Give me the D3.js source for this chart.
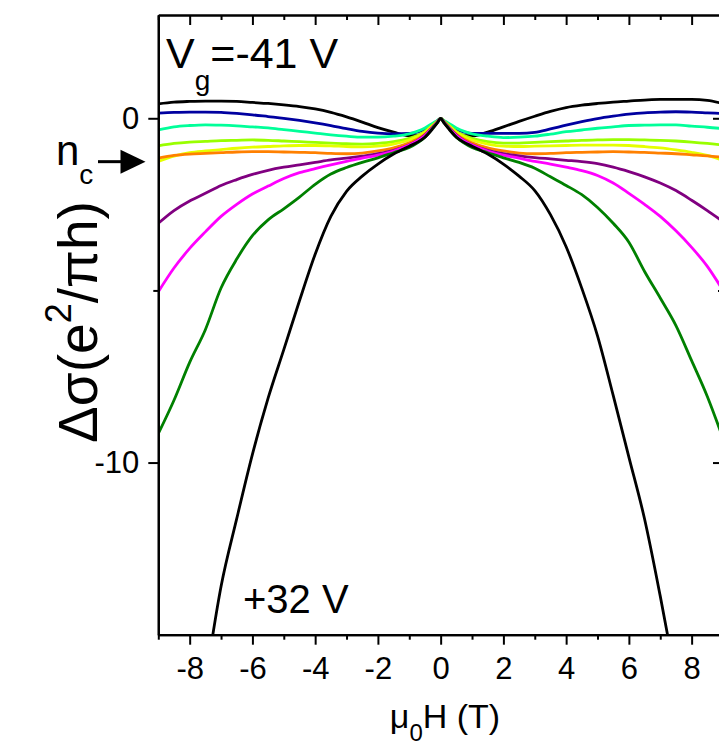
<!DOCTYPE html>
<html>
<head>
<meta charset="utf-8">
<script src="https://cdn.jsdelivr.net/npm/d3@7"></script>
<style>
  html, body { margin: 0; padding: 0; background: #fff; }
  svg { display: block; }
  text { font-family: "Liberation Sans", Arial, sans-serif; fill: #000; }
</style>
</head>
<body>
<svg id="chart" width="719" height="746"></svg>
<script>
// Magnetic field grid (T), shared by every trace
const fieldH = [-9, -8.5, -8, -7.5, -7, -6.5, -6, -5.5, -5, -4.5, -4, -3.5, -3, -2.5, -2, -1.5, -1, -0.75, -0.5, -0.25, -0.1,
  0,
  0.1, 0.25, 0.5, 0.75, 1, 1.5, 2, 2.5, 3, 3.5, 4, 4.5, 5, 5.5, 6, 6.5, 7, 7.5, 8, 8.5, 9];

// Magnetoconductance traces, Δσ in units of e²/πh, from Vg = -41 V (top) to Vg = +32 V (bottom)
const trace01 = [0.42, 0.47, 0.49, 0.50, 0.50, 0.49, 0.46, 0.43, 0.39, 0.34, 0.27, 0.17, 0.04, -0.11, -0.27, -0.40, -0.51, -0.50, -0.42, -0.22, -0.09,
  0,
  -0.09, -0.22, -0.42, -0.50, -0.51, -0.40, -0.25, -0.09, 0.06, 0.20, 0.31, 0.38, 0.43, 0.47, 0.50, 0.53, 0.55, 0.55, 0.55, 0.52, 0.43];
const trace02 = [0.15, 0.17, 0.18, 0.18, 0.17, 0.14, 0.10, 0.05, 0.00, -0.06, -0.13, -0.21, -0.30, -0.38, -0.43, -0.45, -0.44, -0.40, -0.32, -0.17, -0.07,
  0,
  -0.07, -0.17, -0.32, -0.40, -0.44, -0.44, -0.44, -0.44, -0.41, -0.31, -0.20, -0.10, -0.01, 0.06, 0.12, 0.16, 0.18, 0.19, 0.18, 0.16, 0.14];
const trace03 = [-0.34, -0.25, -0.21, -0.19, -0.20, -0.22, -0.25, -0.28, -0.33, -0.38, -0.43, -0.48, -0.52, -0.55, -0.55, -0.52, -0.45, -0.38, -0.28, -0.14, -0.06,
  0,
  -0.06, -0.14, -0.28, -0.38, -0.45, -0.52, -0.56, -0.55, -0.52, -0.46, -0.39, -0.34, -0.29, -0.25, -0.21, -0.20, -0.19, -0.19, -0.23, -0.26, -0.30];
const trace04 = [-0.80, -0.73, -0.69, -0.67, -0.65, -0.64, -0.63, -0.64, -0.66, -0.68, -0.70, -0.72, -0.74, -0.75, -0.73, -0.68, -0.58, -0.50, -0.38, -0.19, -0.08,
  0,
  -0.08, -0.19, -0.38, -0.50, -0.58, -0.68, -0.72, -0.72, -0.70, -0.68, -0.66, -0.64, -0.63, -0.62, -0.62, -0.63, -0.64, -0.66, -0.69, -0.73, -0.78];
const trace05 = [-1.25, -1.10, -1.00, -0.95, -0.91, -0.87, -0.84, -0.82, -0.80, -0.79, -0.79, -0.80, -0.82, -0.83, -0.81, -0.75, -0.63, -0.54, -0.41, -0.21, -0.09,
  0,
  -0.09, -0.21, -0.41, -0.54, -0.63, -0.75, -0.81, -0.82, -0.81, -0.80, -0.79, -0.78, -0.78, -0.78, -0.79, -0.82, -0.86, -0.92, -0.99, -1.08, -1.22];
const trace06 = [-1.16, -1.08, -1.04, -1.02, -1.00, -0.98, -0.97, -0.97, -0.98, -0.99, -1.00, -1.02, -1.03, -1.01, -0.95, -0.86, -0.71, -0.61, -0.46, -0.24, -0.10,
  0,
  -0.10, -0.24, -0.46, -0.61, -0.71, -0.86, -0.95, -1.01, -1.03, -1.02, -1.00, -0.99, -0.98, -0.97, -0.98, -0.99, -1.01, -1.03, -1.06, -1.09, -1.13];
const trace07 = [-3.05, -2.68, -2.40, -2.18, -1.95, -1.78, -1.63, -1.51, -1.42, -1.35, -1.28, -1.21, -1.16, -1.10, -1.03, -0.93, -0.77, -0.65, -0.49, -0.25, -0.10,
  0,
  -0.10, -0.25, -0.49, -0.65, -0.77, -0.93, -1.03, -1.09, -1.14, -1.18, -1.22, -1.26, -1.32, -1.42, -1.55, -1.70, -1.88, -2.10, -2.38, -2.68, -3.00];
const trace08 = [-5.04, -4.35, -3.78, -3.30, -2.85, -2.50, -2.20, -1.97, -1.75, -1.58, -1.46, -1.35, -1.25, -1.16, -1.07, -0.95, -0.78, -0.66, -0.50, -0.26, -0.11,
  0,
  -0.11, -0.26, -0.50, -0.66, -0.78, -0.95, -1.07, -1.16, -1.25, -1.33, -1.42, -1.52, -1.66, -1.88, -2.18, -2.50, -2.85, -3.27, -3.75, -4.30, -5.00];
const trace09 = [-9.16, -8.19, -7.09, -6.14, -4.93, -4.09, -3.41, -2.95, -2.63, -2.29, -1.92, -1.62, -1.43, -1.28, -1.15, -1.00, -0.85, -0.72, -0.55, -0.28, -0.12,
  0,
  -0.12, -0.28, -0.55, -0.72, -0.85, -1.00, -1.15, -1.28, -1.45, -1.70, -1.95, -2.22, -2.59, -3.05, -3.60, -4.45, -5.22, -6.02, -7.04, -8.08, -9.30];
const trace10 = [null, null, null, -16.4, -13.6, -11.63, -9.76, -8.13, -6.72, -5.30, -3.95, -2.85, -2.12, -1.68, -1.33, -1.04, -0.81, -0.70, -0.55, -0.30, -0.13,
  0,
  -0.13, -0.30, -0.55, -0.70, -0.81, -1.04, -1.33, -1.68, -2.10, -2.80, -3.73, -4.94, -6.32, -8.05, -9.84, -11.64, -13.88, -16.3, null, null, null];

const traces = [trace01, trace02, trace03, trace04, trace05, trace06, trace07, trace08, trace09, trace10];
const traceColors = ["#000000", "#0000a0", "#00ff99", "#99ff00", "#e5ff00", "#ff8000", "#800080", "#ff00ff", "#008000", "#000000"];

// Axis ticks
const xMajorTicks = [-8, -6, -4, -2, 0, 2, 4, 6, 8];
const xMinorTicks = [-9, -7, -5, -3, -1, 1, 3, 5, 7, 9];
const yMajorTicks = [0, -10];
const yMinorTicks = [-5];

const plot = { left: 158.3, right: 723, top: 15, bottom: 634.7 };

const svg = d3.select("#chart");

const x = d3.scaleLinear().domain([-9, 9]).range([plot.left, plot.right]);
const y = d3.scaleLinear().domain([-15, 3]).range([plot.bottom, plot.top]);

svg.append("clipPath").attr("id", "plotClip")
  .append("rect")
  .attr("x", plot.left).attr("y", plot.top)
  .attr("width", plot.right - plot.left).attr("height", plot.bottom - plot.top);

// Traces
const line = d3.line()
  .defined(d => d[1] !== null)
  .x(d => x(d[0]))
  .y(d => y(d[1]))
  .curve(d3.curveMonotoneX);

const gLines = svg.append("g").attr("clip-path", "url(#plotClip)");
traces.forEach((vals, i) => {
  gLines.append("path")
    .datum(fieldH.map((h, k) => [h, vals[k]]))
    .attr("fill", "none")
    .attr("stroke", traceColors[i])
    .attr("stroke-width", 2.8)
    .attr("stroke-linejoin", "round")
    .attr("d", line);
});

// Axes
function styleAxis(g) {
  g.selectAll("path.domain").attr("stroke", "#000").attr("stroke-width", 2.2);
  g.selectAll(".tick line").attr("stroke", "#000").attr("stroke-width", 2);
  g.selectAll("text").style("font-family", "\"Liberation Sans\", Arial, sans-serif");
}

const tickFont = 31;
const fmt = d => d < 0 ? "-" + Math.abs(d) : String(d);

// bottom
svg.append("g").attr("transform", `translate(0,${plot.bottom})`)
  .call(d3.axisBottom(x).tickValues(xMajorTicks).tickSize(10).tickSizeOuter(0).tickPadding(12).tickFormat(fmt))
  .call(styleAxis)
  .call(g => g.selectAll("text").attr("font-size", tickFont));
svg.append("g").attr("transform", `translate(0,${plot.bottom})`)
  .call(d3.axisBottom(x).tickValues(xMinorTicks).tickSize(5).tickSizeOuter(0).tickFormat(""))
  .call(styleAxis);

// top (ticks pointing into the plot)
svg.append("g").attr("transform", `translate(0,${plot.top})`)
  .call(d3.axisBottom(x).tickValues(xMajorTicks).tickSize(10).tickSizeOuter(0).tickFormat(""))
  .call(styleAxis);
svg.append("g").attr("transform", `translate(0,${plot.top})`)
  .call(d3.axisBottom(x).tickValues(xMinorTicks).tickSize(5).tickSizeOuter(0).tickFormat(""))
  .call(styleAxis);

// left
svg.append("g").attr("transform", `translate(${plot.left},0)`)
  .call(d3.axisLeft(y).tickValues(yMajorTicks).tickSize(10).tickSizeOuter(0).tickPadding(9).tickFormat(fmt))
  .call(styleAxis)
  .call(g => g.selectAll("text").attr("font-size", tickFont));
svg.append("g").attr("transform", `translate(${plot.left},0)`)
  .call(d3.axisLeft(y).tickValues(yMinorTicks).tickSize(5).tickSizeOuter(0).tickFormat(""))
  .call(styleAxis);

// right (ticks pointing into the plot)
svg.append("g").attr("transform", `translate(${plot.right},0)`)
  .call(d3.axisLeft(y).tickValues(yMajorTicks).tickSize(10).tickSizeOuter(0).tickFormat(""))
  .call(styleAxis);
svg.append("g").attr("transform", `translate(${plot.right},0)`)
  .call(d3.axisLeft(y).tickValues(yMinorTicks).tickSize(5).tickSizeOuter(0).tickFormat(""))
  .call(styleAxis);

// x axis title: μ0H (T)
const xt = svg.append("text").attr("x", 445).attr("y", 728)
  .attr("text-anchor", "middle").attr("font-size", 34);
xt.append("tspan").text("μ");
xt.append("tspan").attr("font-size", 24).attr("dy", 13).text("0");
xt.append("tspan").attr("dy", -13).text("H (T)");

// y axis title: Δσ(e²/πh)
const yt = svg.append("text")
  .attr("transform", "translate(97,322) rotate(-90)")
  .attr("text-anchor", "middle").attr("font-size", 55);
yt.append("tspan").text("Δσ(e");
yt.append("tspan").attr("font-size", 36).attr("dy", -26).text("2");
yt.append("tspan").attr("dy", 26).text("/πh)");

// gate voltage labels
const vg = svg.append("text").attr("x", 166).attr("y", 68).attr("font-size", 43);
vg.append("tspan").text("V");
vg.append("tspan").attr("font-size", 28).attr("dy", 22).text("g");
vg.append("tspan").attr("dy", -22).text("=-41 V");

svg.append("text").attr("x", 243).attr("y", 613).attr("font-size", 40).text("+32 V");

// n_c marker with arrow
const nc = svg.append("text").attr("x", 56).attr("y", 165).attr("font-size", 42);
nc.append("tspan").text("n");
nc.append("tspan").attr("font-size", 28).attr("dy", 19).text("c");

const arrowY = y(-1.26);
svg.append("line")
  .attr("x1", 98).attr("x2", 124).attr("y1", arrowY).attr("y2", arrowY)
  .attr("stroke", "#000").attr("stroke-width", 3);
svg.append("path")
  .attr("d", `M120.5,${arrowY - 12} L145.5,${arrowY} L120.5,${arrowY + 12} Z`)
  .attr("fill", "#000");
</script>
</body>
</html>
